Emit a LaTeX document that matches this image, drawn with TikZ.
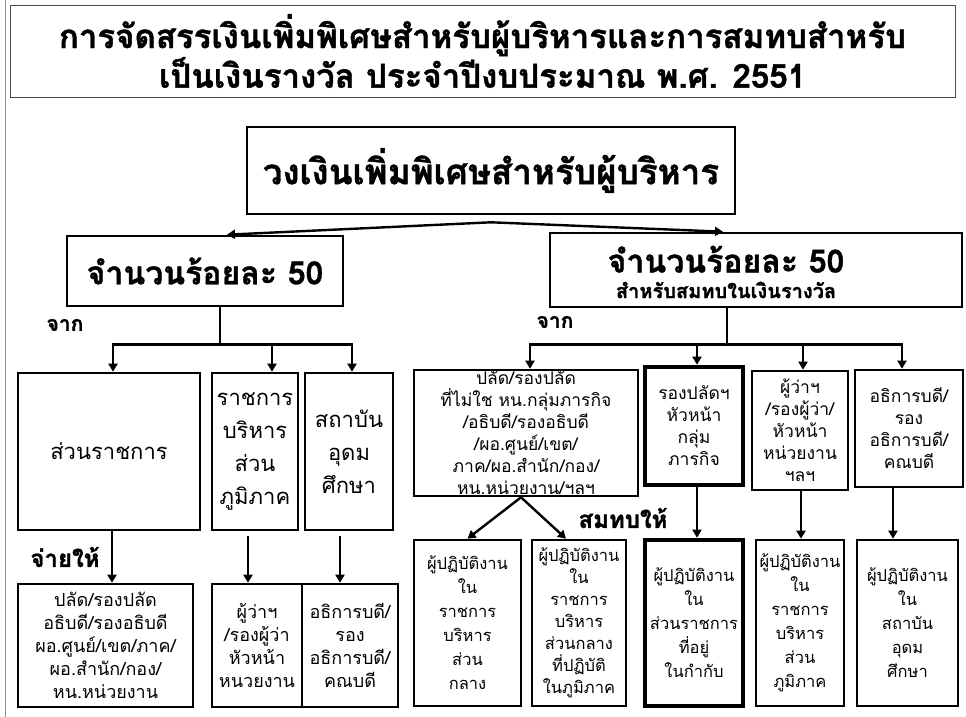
\documentclass[tikz,border=0pt]{standalone}
\usepackage{fontspec}
\newfontfamily\thai[Script=Thai, BoldFeatures={FakeBold=1.2}]{Loma}
\usetikzlibrary{arrows.meta}
\tikzset{
  every node/.style={font=\thai},
  box/.style={draw, line width=2.6pt, inner sep=0pt, align=center},
  heavybox/.style={box, line width=4.6pt},
  thinbox/.style={draw=black!70, line width=0.8pt, inner sep=0pt, align=center},
  conn/.style={line width=2.4pt},
  arr/.style={line width=2.4pt, -{Triangle[length=8pt,width=9pt]}},
  lbl/.style={inner sep=0pt, font=\thai\bfseries\fontsize{21}{24}\selectfont},
  fA/.style={font=\thai\fontsize{22}{33}\selectfont},
  fC/.style={font=\thai\fontsize{17.5}{22}\selectfont},
  fE/.style={font=\thai\fontsize{16.5}{24}\selectfont},
  fD/.style={font=\thai\fontsize{18}{23}\selectfont},
}
\begin{document}
\begin{tikzpicture}[x=1pt,y=-1pt]
\useasboundingbox (0,0) rectangle (966,717);
\draw[black!45, line width=0.6pt] (5,0) -- (5,717);

% title
\node[thinbox, minimum width=945pt, minimum height=92pt, font=\thai\bfseries\fontsize{33}{37}\selectfont] (title) at (482.5,51)
  {การจัดสรรเงินเพิ่มพิเศษสำหรับผู้บริหารและการสมทบสำหรับ\\เป็นเงินรางวัล ประจำปีงบประมาณ พ.ศ. 2551};

% main
\node[box, minimum width=488pt, minimum height=87pt, font=\thai\bfseries\fontsize{35}{38}\selectfont] (main) at (491,170.5)
  {วงเงินเพิ่มพิเศษสำหรับผู้บริหาร};

\node[box, minimum width=276pt, minimum height=70pt, font=\thai\bfseries\fontsize{32}{36}\selectfont] (l50) at (205,271)
  {จำนวนร้อยละ 50};
\node[box, minimum width=412pt, minimum height=74pt] (r50) at (756,270) {};
\node[inner sep=0pt, align=center] (r50t) at ([xshift=-30pt,yshift=-2pt]r50.center)
  {{\bfseries\fontsize{32}{36}\selectfont จำนวนร้อยละ 50}\\[8pt]{\bfseries\fontsize{20}{22}\selectfont สำหรับสมทบในเงินรางวัล}};

\coordinate (apex) at ([yshift=-7pt]main.south);
\draw[arr] (apex) -- ([xshift=22pt]l50.north);
\draw[arr] (apex) -- ([xshift=-33pt]r50.north);

% left branch
\node[box, minimum width=182pt, minimum height=157pt, fA] (srk) at (109,451.5) {ส่วนราชการ};
\node[box, minimum width=86pt, minimum height=157pt, fA] (rbs) at (255,451.5) {ราชการ\\บริหาร\\ส่วน\\ภูมิภาค};
\node[box, minimum width=88pt, minimum height=157pt, fA] (sau) at (349,451.5) {สถาบัน\\อุดม\\ศึกษา};

\node[lbl] (fromL) at (65,325) {จาก};
\coordinate (lj) at ([xshift=15pt,yshift=-37pt]l50.south);
\draw[conn] ([xshift=15pt]l50.south) -- (lj);
\draw[arr] (lj) -| ([xshift=4pt]srk.north);
\draw[arr] (lj) -| ([xshift=17pt]rbs.north);
\draw[arr] (lj) -| ([xshift=3pt]sau.north);

\node[box, minimum width=175pt, minimum height=123pt, fD] (bl1) at (105.5,645.5)
  {ปลัด/รองปลัด\\อธิบดี/รองอธิบดี\\ผอ.ศูนย์/เขต/ภาค/\\ผอ.สำนัก/กอง/\\หน.หน่วยงาน};
\node[box, minimum width=90pt, minimum height=123pt, fD] (bl2) at (257,645.5)
  {ผู้ว่าฯ\\/รองผู้ว่า\\หัวหน้า\\หนวยงาน};
\node[box, minimum width=96pt, minimum height=123pt, fD] (bl3) at (350,645.5)
  {อธิการบดี/\\รอง\\อธิการบดี/\\คณบดี};

\node[lbl, font=\thai\bfseries\fontsize{24}{26}\selectfont] (pay) at (65,557) {จ่ายให้};
\draw[arr] ([xshift=3pt]srk.south) -- ([xshift=3pt]srk.south |- bl1.north);
\draw[arr, shorten <=5pt] ([xshift=-7pt]rbs.south) -- ([xshift=-7pt]rbs.south |- bl2.north);
\draw[arr, shorten <=5pt] ([xshift=-9pt]sau.south) -- ([xshift=-9pt]sau.south |- bl3.north);

% right branch
\node[box, minimum width=224pt, minimum height=126pt, fC] (A) at (526,433)
  {ปลัด/รองปลัด\\ที่ไม่ใช หน.กลุ่มภารกิจ\\/อธิบดี/รองอธิบดี\\/ผอ.ศูนย์/เขต/\\ภาค/ผอ.สำนัก/กอง/\\หน.หน่วยงาน/ฯลฯ};
\node[heavybox, minimum width=98pt, minimum height=118pt, fC] (B) at (694,426)
  {รองปลัดฯ\\หัวหน้า\\กลุ่ม\\ภารกิจ};
\node[box, minimum width=96pt, minimum height=119pt, fC] (C) at (800,430.5)
  {ผู้ว่าฯ\\/รองผู้ว่า/\\หัวหน้า\\หน่วยงาน\\ฯลฯ};
\node[box, minimum width=108pt, minimum height=117pt, fC] (D) at (909,428.5)
  {อธิการบดี/\\รอง\\อธิการบดี/\\คณบดี};

\node[lbl] (fromR) at (555,322) {จาก};
\coordinate (rj) at ([xshift=-29pt,yshift=-36pt]r50.south);
\draw[conn] ([xshift=-29pt]r50.south) -- (rj);
\draw[arr] (rj) -| ([xshift=4pt]A.north);
\draw[arr] (rj) -| ([xshift=3pt]B.north);
\draw[arr] (rj) -| ([xshift=3pt]C.north);
\draw[arr] (rj) -| ([xshift=-7pt]D.north);

\node[box, minimum width=107pt, minimum height=166pt, fE] (E) at (467.5,623)
  {ผู้ปฏิบัติงาน\\ใน\\ราชการ\\บริหาร\\ส่วน\\กลาง};
\node[box, minimum width=94pt, minimum height=166pt, font=\thai\fontsize{16.5}{22}\selectfont] (F) at (579,623)
  {ผู้ปฏิบัติงาน\\ใน\\ราชการ\\บริหาร\\ส่วนกลาง\\ที่ปฏิบัติ\\ในภูมิภาค};
\node[heavybox, minimum width=98pt, minimum height=166pt, fE] (G) at (694,623)
  {ผู้ปฏิบัติงาน\\ใน\\ส่วนราชการ\\ที่อยู่\\ในกำกับ};
\node[box, minimum width=88pt, minimum height=166pt, fE] (H) at (800,623)
  {ผู้ปฏิบัติงาน\\ใน\\ราชการ\\บริหาร\\ส่วน\\ภูมิภาค};
\node[box, minimum width=101pt, minimum height=166pt, fE] (I) at (907.5,623)
  {ผู้ปฏิบัติงาน\\ใน\\สถาบัน\\อุดม\\ศึกษา};

\coordinate (aj) at ([xshift=-5pt]A.south);
\draw[arr] (aj) -- (E.north);
\draw[arr] (aj) -- ([xshift=-13pt]F.north);
\node[lbl, font=\thai\bfseries\fontsize{24}{26}\selectfont] (joint) at (623,518) {สมทบให้};
\draw[arr] ([xshift=3pt]B.south) -- ([xshift=3pt]B.south |- G.north);
\draw[arr] ([xshift=1pt]C.south) -- ([xshift=1pt]C.south |- H.north);
\draw[arr] ([xshift=-16pt]D.south) -- ([xshift=-16pt]D.south |- I.north);
\end{tikzpicture}
\end{document}
